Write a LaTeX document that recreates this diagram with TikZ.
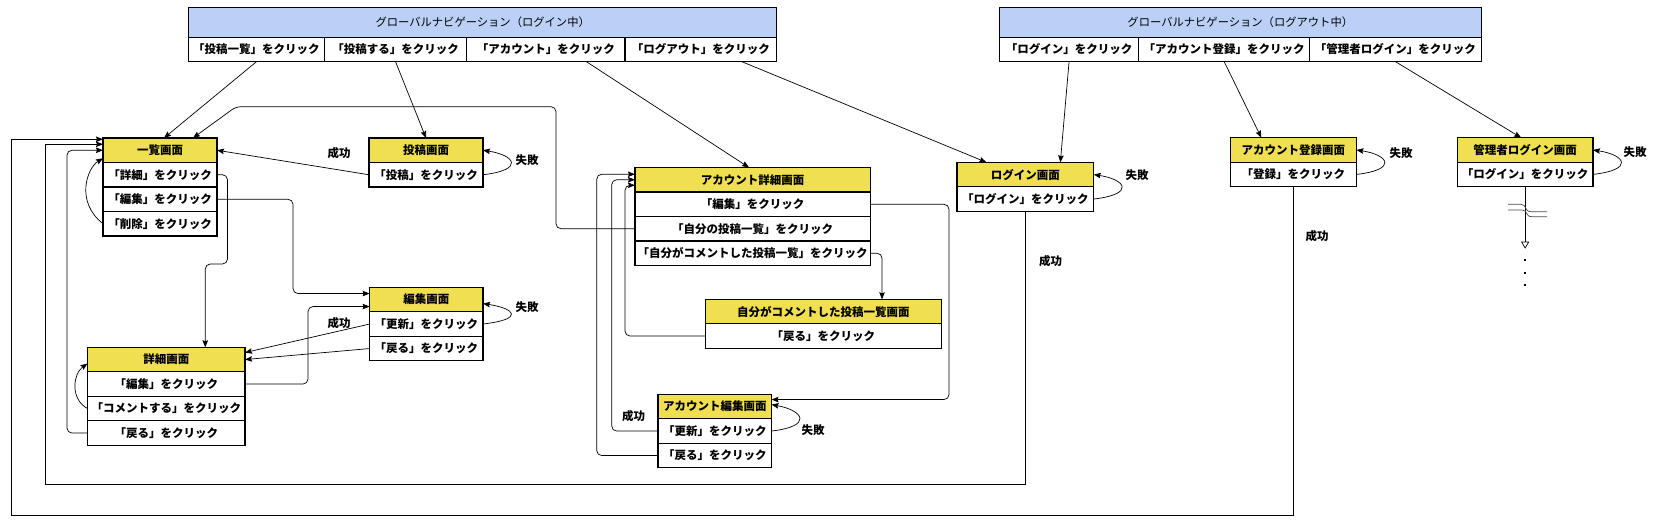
\documentclass[tikz,border=0pt]{standalone}
\usepackage{fontspec}
\setmainfont{Noto Sans CJK JP}
\usetikzlibrary{arrows.meta,positioning}
\definecolor{scrfill}{RGB}{241,223,82}
\definecolor{navfill}{RGB}{186,208,247}

\begin{document}
\begin{tikzpicture}[x=1pt,y=-1pt,>={Stealth[length=7pt,width=5.5pt,inset=1pt]},
                    semithick]
  \tikzstyle{hdr}=[draw,line width=1.3pt,fill=scrfill,anchor=north west,
                   minimum height=24.5pt,inner sep=0pt,outer sep=0pt,
                   font=\fontsize{11.5}{13}\selectfont\bfseries]
  \tikzstyle{rowbox}=[draw,line width=1.3pt,fill=white,
                   minimum height=24.5pt,inner sep=0pt,outer sep=0pt,
                   font=\fontsize{11.5}{13}\selectfont\bfseries]
  \tikzstyle{navhead}=[draw,line width=1.3pt,fill=navfill,anchor=north west,
                   minimum height=30pt,inner sep=0pt,outer sep=0pt,
                   font=\fontsize{11.3}{13}\selectfont]
  \tikzstyle{btn}=[draw,line width=1.3pt,fill=white,
                   minimum height=24.4pt,inner sep=0pt,outer sep=0pt,
                   font=\fontsize{11.5}{13}\selectfont\bfseries]
  \tikzstyle{lbl}=[inner sep=0pt,font=\fontsize{11.5}{13}\selectfont\bfseries]
  \tikzstyle{conn}=[->,line width=0.7pt,rounded corners=5pt]

  \useasboundingbox (0,0) rectangle (1653,527);

  % global navigation (logged in)
  \node[navhead, minimum width=588.2pt] (navin) at (188.6,7.3) {グローバルナビゲーション（ログイン中）};
  \node[btn, minimum width=135.7pt, anchor=north west] (bList) at (navin.south west) {「投稿一覧」をクリック};
  \node[btn, minimum width=142.5pt] (bPost) [right=0pt of bList] {「投稿する」をクリック};
  \node[btn, minimum width=158.2pt] (bAcct) [right=0pt of bPost] {「アカウント」をクリック};
  \node[btn, minimum width=151.8pt] (bOut) [right=0pt of bAcct] {「ログアウト」をクリック};

  % global navigation (logged out)
  \node[navhead, minimum width=482pt] (navout) at (999.3,7.3) {グローバルナビゲーション（ログアウト中）};
  \node[btn, minimum width=139.5pt, anchor=north west] (bLogin) at (navout.south west) {「ログイン」をクリック};
  \node[btn, minimum width=170.8pt] (bReg) [right=0pt of bLogin] {「アカウント登録」をクリック};
  \node[btn, minimum width=171.7pt] (bAdmin) [right=0pt of bReg] {「管理者ログイン」をクリック};

  % screens
  \node[hdr, minimum width=114pt] (ichiran) at (103,138) {一覧画面};
  \node[rowbox, minimum width=114pt] (ichiran-r1) [below=0pt of ichiran] {「詳細」をクリック};
  \node[rowbox, minimum width=114pt] (ichiran-r2) [below=0pt of ichiran-r1] {「編集」をクリック};
  \node[rowbox, minimum width=114pt] (ichiran-r3) [below=0pt of ichiran-r2] {「削除」をクリック};

  \node[hdr, minimum width=114pt] (toukou) at (369,138) {投稿画面};
  \node[rowbox, minimum width=114pt] (toukou-r1) [below=0pt of toukou] {「投稿」をクリック};

  \node[hdr, minimum width=113.4pt] (henshu) at (369.6,287.3) {編集画面};
  \node[rowbox, minimum width=113.4pt] (henshu-r1) [below=0pt of henshu] {「更新」をクリック};
  \node[rowbox, minimum width=113.4pt] (henshu-r2) [below=0pt of henshu-r1] {「戻る」をクリック};

  \node[hdr, minimum width=157.5pt] (shousai) at (87.5,347.3) {詳細画面};
  \node[rowbox, minimum width=157.5pt] (shousai-r1) [below=0pt of shousai] {「編集」をクリック};
  \node[rowbox, minimum width=157.5pt] (shousai-r2) [below=0pt of shousai-r1] {「コメントする」をクリック};
  \node[rowbox, minimum width=157.5pt] (shousai-r3) [below=0pt of shousai-r2] {「戻る」をクリック};

  \node[hdr, minimum width=235.4pt] (acc) at (635,167.5) {アカウント詳細画面};
  \node[rowbox, minimum width=235.4pt] (acc-r1) [below=0pt of acc] {「編集」をクリック};
  \node[rowbox, minimum width=235.4pt] (acc-r2) [below=0pt of acc-r1] {「自分の投稿一覧」をクリック};
  \node[rowbox, minimum width=235.4pt] (acc-r3) [below=0pt of acc-r2] {「自分がコメントした投稿一覧」をクリック};

  \node[hdr, minimum width=236pt] (mycom) at (705.4,299.3) {自分がコメントした投稿一覧画面};
  \node[rowbox, minimum width=236pt] (mycom-r1) [below=0pt of mycom] {「戻る」をクリック};

  \node[hdr, minimum width=113.5pt] (accedit) at (658,394.3) {アカウント編集画面};
  \node[rowbox, minimum width=113.5pt] (accedit-r1) [below=0pt of accedit] {「更新」をクリック};
  \node[rowbox, minimum width=113.5pt] (accedit-r2) [below=0pt of accedit-r1] {「戻る」をクリック};

  \node[hdr, minimum width=136.7pt] (login) at (957,162.3) {ログイン画面};
  \node[rowbox, minimum width=136.7pt] (login-r1) [below=0pt of login] {「ログイン」をクリック};

  \node[hdr, minimum width=126.2pt] (reg) at (1230.2,137.7) {アカウント登録画面};
  \node[rowbox, minimum width=126.2pt] (reg-r1) [below=0pt of reg] {「登録」をクリック};

  \node[hdr, minimum width=135.7pt] (admin) at (1457.3,137.7) {管理者ログイン画面};
  \node[rowbox, minimum width=135.7pt] (admin-r1) [below=0pt of admin] {「ログイン」をクリック};

  % labels
  \node[lbl] (ok1) at (339,153) {成功};
  \node[lbl] (ng1) at (527,160) {失敗};
  \node[lbl] (ok2) at (339,322.7) {成功};
  \node[lbl] (ng2) at (527,307) {失敗};
  \node[lbl] (ok3) at (633.6,416) {成功};
  \node[lbl] (ng3) at (813,430) {失敗};
  \node[lbl] (ok4) at (1050.7,261) {成功};
  \node[lbl] (ng4) at (1137,175) {失敗};
  \node[lbl] (ok5) at (1317,236) {成功};
  \node[lbl] (ng5) at (1401,153) {失敗};
  \node[lbl] (ng6) at (1635,152) {失敗};

  % navigation links
  \draw[conn] (bList.south) -- ([xshift=4pt]ichiran.north);
  \draw[conn] (bPost.south) -- (toukou.north);
  \draw[conn] ([xshift=40.5pt]bAcct.south) -- ([xshift=-3.7pt]acc.north);
  \draw[conn] ([xshift=41pt]bOut.south) -- ([xshift=-39pt]login.north);
  \draw[conn] (bLogin.south) -- ([xshift=35pt]login.north);
  \draw[conn] (bReg.south) -- ([xshift=-32pt]reg.north);
  \draw[conn] (bAdmin.south) -- ([xshift=-4pt]admin.north);

  % list / post / edit / detail
  \draw[conn] (toukou-r1.west) -- (ichiran.east);
  \draw[conn] (toukou-r1.east) .. controls +(42,-5) and +(32,5) .. (toukou.east);
  \draw[conn] (ichiran-r1.east) -| (227.5,264) -| ([xshift=39pt]shousai.north);
  \draw[conn] (ichiran-r2.east) -- ++(76,0) |- ([yshift=6pt]henshu.west);
  \draw[conn] (ichiran-r3.west) .. controls +(-28,-22) and +(-16,10) .. ([yshift=-8pt]ichiran.west);
  \draw[conn] (shousai-r3.west) -- ++(-20.5,0) |- (ichiran.west);
  \draw[conn] (shousai-r2.west) .. controls +(-18,-10) and +(-14,10) .. ([yshift=-4pt]shousai.west);
  \draw[conn] (shousai-r1.east) -- ++(63,0) |- ([yshift=-7pt]henshu.west);
  \draw[conn] (henshu-r1.west) -- ([yshift=7pt]shousai.east);
  \draw[conn] (henshu-r2.west) -- (shousai.east);
  \draw[conn] (henshu-r1.east) .. controls +(42,-5) and +(32,5) .. ([yshift=-4pt]henshu.east);

  % account
  \draw[conn] (acc-r2.west) -| (556,106.7) -- (236,106.7) -- ([xshift=33pt]ichiran.north);
  \draw[conn] (acc-r1.east) -- ++(78.6,0) |- ([yshift=7pt]accedit.east);
  \draw[conn] (acc-r3.east) -| ([xshift=58.6pt]mycom.north);
  \draw[conn] (mycom-r1.west) -- ++(-80.4,0) |- ([yshift=-5.5pt]acc.west);
  \draw[conn] (accedit-r1.west) -- ++(-46.3,0) |- (acc.west);
  \draw[conn] (accedit-r2.west) -- ++(-61.3,0) |- ([yshift=5.5pt]acc.west);
  \draw[conn] (accedit-r1.east) .. controls +(42,-5) and +(32,6) .. ([yshift=2pt]accedit.east);

  % login / register / admin
  \draw[conn, sharp corners] (login-r1.south) |- (45,484) |- ([yshift=6pt]ichiran.west);
  \draw[conn] (login-r1.east) .. controls +(42,-5) and +(32,5) .. (login.east);
  \draw[conn, sharp corners] (reg-r1.south) |- (11,515) |- ([yshift=11pt]ichiran.west);
  \draw[conn] (reg-r1.east) .. controls +(42,-5) and +(32,5) .. (reg.east);
  \draw[conn] (admin-r1.east) .. controls +(42,-5) and +(32,5) .. (admin.east);

  \coordinate[below=62pt of admin-r1] (more);
  \draw[line width=0.7pt,-{Triangle[open,length=7pt,width=8pt]}] (admin-r1.south) -- (more);
  \draw[line width=0.7pt,black!70] (1508,204.3) -- (1521,204.3) .. controls (1527,204.3) and (1524,211.7) .. (1531,211.7) -- (1547,211.7);
  \draw[line width=0.7pt,black!70] (1508,210) -- (1522,210) .. controls (1528,210) and (1525,216.7) .. (1532,216.7) -- (1547,216.7);
  \foreach \d in {260,272.7,285}
    \fill (1524,\d-1) rectangle (1526,\d+1);
\end{tikzpicture}
\end{document}
